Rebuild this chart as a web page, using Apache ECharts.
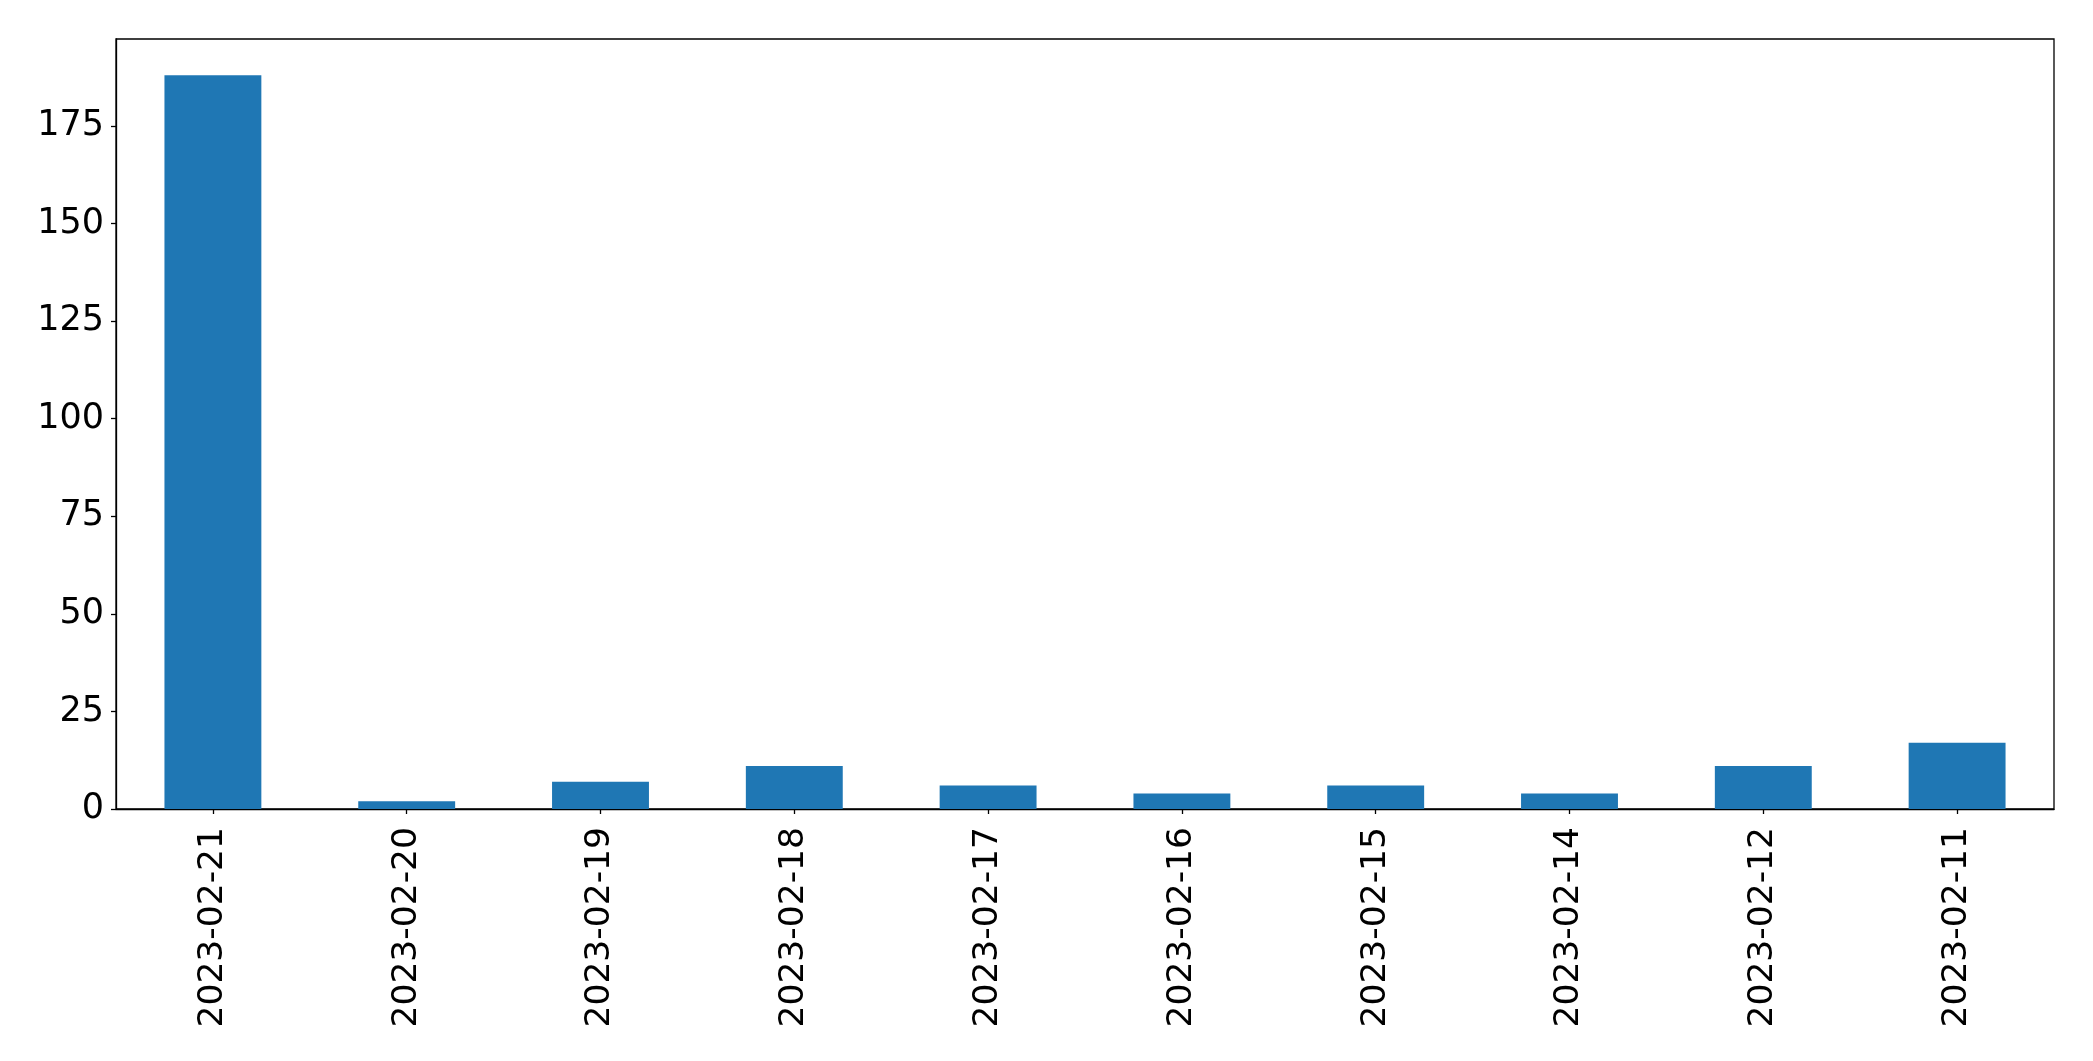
<!DOCTYPE html>
<html>
<head>
<meta charset="utf-8">
<script src="https://cdn.jsdelivr.net/npm/echarts@6/dist/echarts.min.js"></script>
<style>
html,body{margin:0;padding:0;background:#fff;}
#chart{width:2093px;height:1061px;}
</style>
</head>
<body>
<div id="chart"></div>
<script>
const categories = ['2023-02-21','2023-02-20','2023-02-19','2023-02-18','2023-02-17','2023-02-16','2023-02-15','2023-02-14','2023-02-12','2023-02-11'];
const values = [188, 2, 7, 11, 6, 4, 6, 4, 11, 17];
const yTicks = [0, 25, 50, 75, 100, 125, 150, 175];

const chart = echarts.init(document.getElementById('chart'), null, {renderer: 'canvas'});
const font = 'DejaVu Sans';
chart.setOption({
  animation: false,
  backgroundColor: '#ffffff',
  grid: {
    left: 116, right: 39, top: 39, bottom: 252,
    show: true, borderColor: '#000', borderWidth: 1.3, backgroundColor: 'transparent'
  },
  xAxis: {
    type: 'category',
    data: categories,
    axisLine: {show: true, lineStyle: {color: '#000', width: 1.3}},
    axisTick: {show: true, alignWithLabel: true, length: 5, lineStyle: {color: '#000', width: 1.3}},
    axisLabel: {rotate: 90, color: '#000', fontFamily: font, fontSize: 34.5, margin: 18, interval: 0},
    splitLine: {show: false}
  },
  yAxis: {
    type: 'value',
    min: 0, max: 197.3,
    axisLine: {show: true, lineStyle: {color: '#000', width: 1.3}},
    axisTick: {show: true, length: 5, customValues: yTicks, lineStyle: {color: '#000', width: 1.3}},
    axisLabel: {
      color: '#000', fontFamily: font, fontSize: 35, margin: 12,
      padding: [4, 0, 0, 0],
      customValues: yTicks
    },
    splitLine: {show: false}
  },
  series: [{
    type: 'bar',
    data: values,
    barWidth: '50%',
    itemStyle: {color: '#1f77b4'}
  }]
});
</script>
</body>
</html>
